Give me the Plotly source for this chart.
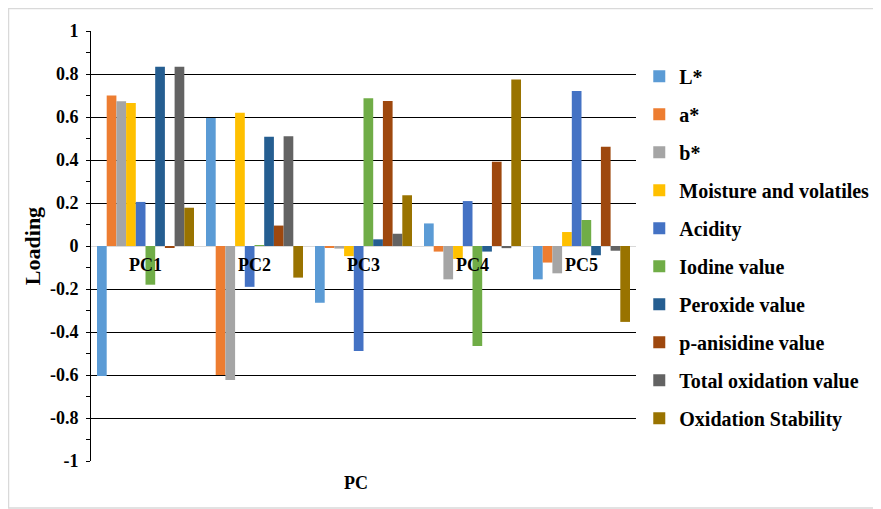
import plotly.graph_objects as go

categories = ["PC1", "PC2", "PC3", "PC4", "PC5"]
series_names = ["L*", "a*", "b*", "Moisture and volatiles", "Acidity", "Iodine value",
                "Peroxide value", "p-anisidine value", "Total oxidation value", "Oxidation Stability"]
colors = ["#5B9BD5", "#ED7D31", "#A5A5A5", "#FFC000", "#4472C4", "#70AD47",
          "#255E91", "#9E480E", "#636363", "#997300"]

L_star = [-0.605, 0.595, -0.264, 0.105, -0.155]
a_star = [0.700, -0.600, -0.006, -0.026, -0.077]
b_star = [0.673, -0.623, -0.012, -0.155, -0.127]
moisture = [0.665, 0.620, -0.047, -0.060, 0.065]
acidity = [0.205, -0.190, -0.488, 0.209, 0.721]
iodine = [-0.180, 0.004, 0.687, -0.465, 0.121]
peroxide = [0.834, 0.508, 0.031, -0.026, -0.043]
p_anisidine = [-0.005, 0.095, 0.674, 0.392, 0.462]
total_ox = [0.834, 0.510, 0.057, -0.010, -0.022]
ox_stability = [0.178, -0.147, 0.236, 0.775, -0.353]

values = [L_star, a_star, b_star, moisture, acidity, iodine,
          peroxide, p_anisidine, total_ox, ox_stability]

y_ticks = [1, 0.8, 0.6, 0.4, 0.2, 0, -0.2, -0.4, -0.6, -0.8, -1]
y_tick_text = ["1", "0.8", "0.6", "0.4", "0.2", "0", "-0.2", "-0.4", "-0.6", "-0.8", "-1"]

FONT = "Times New Roman, Liberation Serif, serif"

fig = go.Figure()
for i, (name, vals) in enumerate(zip(series_names, values)):
    fig.add_trace(go.Bar(
        x=categories, y=vals, name="<b>%s</b>" % name, marker_color=colors[i],
        marker_line_width=0, legendgroup="g%d" % i,
    ))

# category labels sit just below the zero line
for cat in categories:
    fig.add_annotation(x=cat, y=0, xref="x", yref="y", text="<b>%s</b>" % cat,
                       showarrow=False, yanchor="top", yshift=-7,
                       font=dict(family=FONT, size=18, color="black"))

fig.add_annotation(x=0.486, y=-0.051, xref="paper", yref="paper", text="<b>PC</b>",
                   showarrow=False, yanchor="middle",
                   font=dict(family=FONT, size=18, color="black"))

fig.add_annotation(x=-0.108, y=0.5, xref="paper", yref="paper", text="<b>Loading</b>",
                   showarrow=False, textangle=-90, xanchor="center", yanchor="middle",
                   font=dict(family=FONT, size=22, color="black"))

# outer light frame (figure border)
fig.add_shape(type="rect", xref="paper", yref="paper",
              x0=-0.1514, x1=1.4477, y0=-0.1093, y1=1.0523,
              line=dict(color="#D9D9D9", width=1.5), layer="below")

fig.update_layout(
    width=873, height=501,
    margin=dict(l=83, r=245, t=23, b=48, autoexpand=False),
    paper_bgcolor="white", plot_bgcolor="white",
    barmode="group", bargap=0.11, bargroupgap=0,
    font=dict(family=FONT, color="black"),
    legend=dict(x=1.006, y=0.94, xanchor="left", yanchor="top",
                font=dict(family=FONT, size=20, color="black"),
                tracegroupgap=9, itemwidth=30, bgcolor="rgba(0,0,0,0)"),
    showlegend=True,
)

fig.update_xaxes(showticklabels=False, showline=False, showgrid=False, ticks="",
                 zeroline=False, automargin=False)
fig.update_yaxes(
    range=[-1, 1], tickvals=y_ticks, ticktext=["<b>%s</b>" % t for t in y_tick_text],
    tickfont=dict(family=FONT, size=18, color="black"),
    showgrid=True, gridcolor="black", gridwidth=1,
    zeroline=True, zerolinecolor="#D9D9D9", zerolinewidth=1,
    showline=True, linecolor="black", linewidth=1,
    ticks="outside", ticklen=4, tickcolor="black", automargin=False,
    ticklabelstandoff=4,
    minor=dict(dtick=0.1, ticks="outside", ticklen=4, tickcolor="black", showgrid=False),
)

fig.write_html("out.html")
